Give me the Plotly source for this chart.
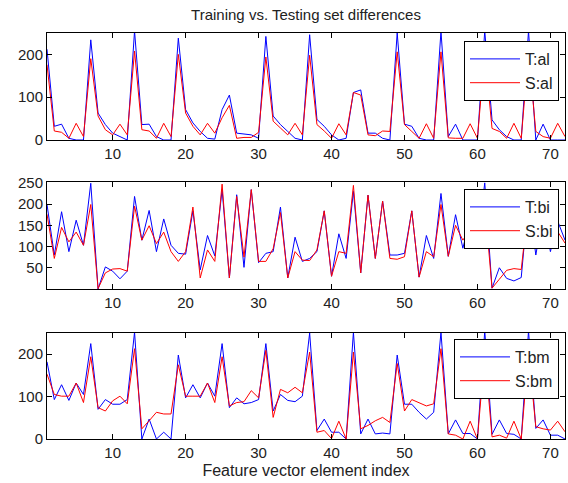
import plotly.graph_objects as go

idx = list(range(1, 73))

al_T = [212, 32, 37, 4, 0, 0, 234, 63, 36, 16, 8, 0, 255, 36, 37, 8, 0, 0,
        238, 71, 40, 20, 4, 2, 71, 105, 16, 14, 12, 4, 242, 56, 36, 20, 4, 0,
        246, 48, 32, 12, 0, 4, 111, 117, 16, 16, 4, 0, 250, 37, 32, 4, 0, 0,
        254, 8, 37, 0, 0, 0, 255, 47, 24, 8, 0, 0, 255, 0, 37, 0, 0, 0]
al_S = [176, 21, 18, 4, 39, 8, 190, 56, 24, 12, 37, 12, 208, 24, 21, 4, 39, 8,
        200, 63, 32, 12, 39, 16, 52, 81, 4, 6, 6, 18, 194, 44, 28, 12, 39, 12,
        198, 36, 21, 4, 38, 12, 111, 105, 12, 10, 21, 20, 206, 36, 20, 4, 38, 4,
        206, 5, 4, 4, 38, 4, 205, 27, 20, 4, 39, 4, 205, 20, 8, 4, 39, 8]

bi_T = [199, 80, 182, 88, 162, 103, 249, 0, 52, 42, 24, 42, 218, 115, 185, 88, 165, 103,
        84, 82, 184, 45, 126, 78, 234, 26, 222, 51, 234, 62, 84, 88, 193, 26, 122, 65,
        72, 88, 184, 30, 130, 72, 230, 38, 221, 72, 207, 80, 80, 84, 184, 28, 126, 72,
        225, 77, 175, 96, 165, 105, 250, 2, 50, 25, 19, 27, 215, 80, 180, 88, 160, 115]
bi_S = [176, 72, 145, 111, 134, 103, 199, 1, 38, 47, 48, 42, 195, 115, 149, 107, 134, 88,
        65, 88, 193, 26, 92, 65, 247, 26, 218, 75, 234, 65, 65, 95, 180, 26, 88, 68,
        67, 92, 184, 30, 88, 84, 244, 38, 221, 72, 207, 72, 70, 76, 184, 28, 88, 76,
        199, 77, 150, 115, 140, 105, 200, 2, 23, 44, 48, 46, 200, 110, 150, 110, 135, 108]

bm_T = [182, 93, 128, 91, 132, 105, 225, 70, 93, 82, 82, 93, 252, 0, 47, 0, 16, 0,
        198, 97, 128, 97, 132, 101, 225, 74, 97, 83, 86, 93, 225, 66, 105, 91, 88, 101,
        250, 20, 47, 16, 16, 0, 252, 12, 47, 12, 14, 12, 198, 82, 82, 63, 47, 63,
        252, 12, 45, 13, 13, 0, 255, 11, 45, 13, 11, 0, 255, 25, 45, 9, 9, 0]
bm_S = [153, 105, 101, 101, 132, 86, 194, 74, 66, 90, 101, 83, 213, 24, 43, 63, 59, 59,
        175, 101, 101, 101, 132, 86, 194, 78, 86, 88, 114, 97, 209, 51, 117, 109, 122, 109,
        205, 16, 20, 1, 42, 0, 205, 24, 32, 43, 51, 39, 178, 66, 93, 86, 78, 83,
        213, 12, 9, 0, 42, 0, 205, 5, 9, 2, 42, 0, 205, 29, 24, 21, 42, 17]

names = [("T:al", "S:al"), ("T:bi", "S:bi"), ("T:bm", "S:bm")]
series = [(al_T, al_S), (bi_T, bi_S), (bm_T, bm_S)]
x_ticks = [10, 20, 30, 40, 50, 60, 70]
y_ticks = [[0, 100, 200], [50, 100, 150, 200, 250], [0, 100, 200]]
y_ranges = [[0, 250], [0, 252], [0, 250]]

FONT = "Liberation Sans, Arial, Helvetica, sans-serif"

W, H = 568, 483
L, R, T, B = 47, 3, 33, 44
plot_h = H - T - B
px_boxes = [(33, 140), (182, 289), (333, 439)]
domains = [[(H - B - b) / plot_h, (H - B - t) / plot_h] for (t, b) in px_boxes]
domains = [[max(0, d[0]), min(1, d[1])] for d in domains]

fig = go.Figure()
legend_keys = ["legend", "legend2", "legend3"]
for k, ((tn, sn), (ts, ss)) in enumerate(zip(names, series)):
    xa = "x" if k == 0 else f"x{k+1}"
    ya = "y" if k == 0 else f"y{k+1}"
    fig.add_trace(go.Scatter(x=idx, y=ts, mode="lines", name=tn,
                             line=dict(color="#0000ff", width=1),
                             xaxis=xa, yaxis=ya, legend=legend_keys[k]))
    fig.add_trace(go.Scatter(x=idx, y=ss, mode="lines", name=sn,
                             line=dict(color="#ff0000", width=1),
                             xaxis=xa, yaxis=ya, legend=legend_keys[k]))

axis_common = dict(showline=True, linecolor="black", linewidth=1, mirror="allticks",
                   ticks="inside", ticklen=5, tickcolor="black", showgrid=False,
                   zeroline=False, tickfont=dict(family=FONT, size=15, color="#222"))

layout = dict(width=W, height=H, margin=dict(l=L, r=R, t=T, b=B),
              paper_bgcolor="white", plot_bgcolor="white", showlegend=True,
              font=dict(family=FONT, color="#222"),
              title=dict(text="Training vs. Testing set differences", x=(L + (W - R)) / 2 / W,
                         xanchor="center", y=1 - 15 / H, yanchor="middle",
                         font=dict(family=FONT, size=15, color="#222")))

for k in range(3):
    xk = "xaxis" if k == 0 else f"xaxis{k+1}"
    yk = "yaxis" if k == 0 else f"yaxis{k+1}"
    layout[xk] = dict(axis_common, range=[1, 72], tickvals=x_ticks, domain=[0, 1],
                      anchor="y" if k == 0 else f"y{k+1}")
    layout[yk] = dict(axis_common, range=y_ranges[k], tickvals=y_ticks[k], domain=domains[k],
                      anchor="x" if k == 0 else f"x{k+1}")

layout["xaxis3"]["title"] = dict(text="Feature vector element index",
                                 font=dict(family=FONT, size=16, color="#222"), standoff=4)

leg_pos = [(559, 41), (559, 189), (559, 339)]
for k, (rx, ty) in enumerate(leg_pos):
    layout[legend_keys[k]] = dict(x=(rx - L) / (W - L - R), xanchor="right",
                                  y=(H - B - ty) / plot_h, yanchor="top",
                                  bgcolor="white", bordercolor="black", borderwidth=1,
                                  font=dict(family=FONT, size=16, color="#222"),
                                  itemwidth=50, tracegroupgap=0)

fig.update_layout(**layout)
fig.write_html("out.html")
